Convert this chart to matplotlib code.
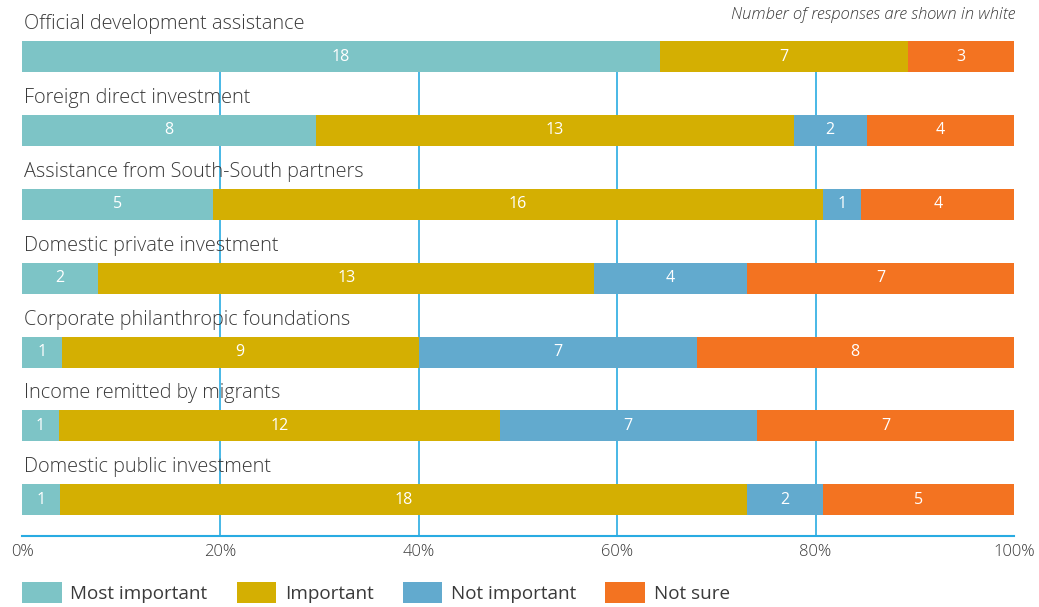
import numpy as np
import matplotlib.pyplot as plt

categories = ["Official development assistance",
              "Foreign direct investment",
              "Assistance from South-South partners",
              "Domestic private investment",
              "Corporate philanthropic foundations",
              "Income remitted by migrants",
              "Domestic public investment"]
series = ["Most important", "Important", "Not important", "Not sure"]
most_important = [18, 8, 5, 2, 1, 1, 1]
important = [7, 13, 16, 13, 9, 12, 18]
not_important = [0, 2, 1, 4, 7, 7, 2]
not_sure = [3, 4, 4, 7, 8, 7, 5]
tick_vals = [0, 20, 40, 60, 80, 100]
tick_labels = ["0%", "20%", "40%", "60%", "80%", "100%"]

colors = ["#7DC4C6", "#D4AF02", "#62AACE", "#F37321"]
grid_c = "#29ABE2"
text_c = "#3a3a3a"

plt.rcParams['font.family'] = ['Open Sans', 'DejaVu Sans']

counts = np.array([most_important, important, not_important, not_sure], dtype=float)
totals = counts.sum(axis=0)
pct = counts / totals * 100

fig = plt.figure(figsize=(10.39, 6.07), dpi=100)
W, H = 1039, 607
ax = fig.add_axes([22 / W, 1 - 536 / H, (1014 - 22) / W, (536 - 41) / H])

y = np.arange(len(categories))
h = 0.42
left = np.zeros(len(categories))
bars = []
for i, name in enumerate(series):
    b = ax.barh(y, pct[i], left=left, height=h, color=colors[i], label=name, zorder=2)
    bars.append(b)
    for j in range(len(categories)):
        if counts[i, j] > 0:
            ax.text(left[j] + pct[i, j] / 2, y[j], "%d" % counts[i, j], color="white",
                    ha="center", va="center", fontsize=11.5, zorder=3)
    left = left + pct[i]

for j, cat in enumerate(categories):
    ax.text(0.2, y[j] - 0.44, cat, ha="left", va="center", fontsize=14.3,
            color=text_c, fontweight="light", clip_on=False, zorder=1)

ax.set_xlim(0, 100)
ax.set_ylim(6.49, -0.21)
ax.set_xticks(tick_vals)
ax.set_xticklabels(tick_labels, color=text_c, fontsize=12, fontweight="light")
ax.set_yticks([])
for v in tick_vals[1:-1]:
    ax.axvline(v, color=grid_c, lw=1.2, zorder=0)
for s in ["top", "left", "right"]:
    ax.spines[s].set_visible(False)
ax.spines["bottom"].set_color(grid_c)
ax.spines["bottom"].set_linewidth(1.5)
ax.tick_params(axis="x", length=0, pad=6)

fig.text(1015 / W, 1 - 15 / H, "Number of responses are shown in white", ha="right",
         va="center", fontsize=12, style="italic", color=text_c, fontweight="light")

fig.legend(handles=bars, labels=series, loc="lower left", bbox_to_anchor=(22 / W, 4 / H),
           ncol=4, frameon=False, fontsize=13.6, handlelength=2.1, handleheight=1.35,
           handletextpad=0.45, columnspacing=1.55, labelcolor=text_c,
           borderpad=0, borderaxespad=0)

fig.savefig("out.png", dpi=100)
